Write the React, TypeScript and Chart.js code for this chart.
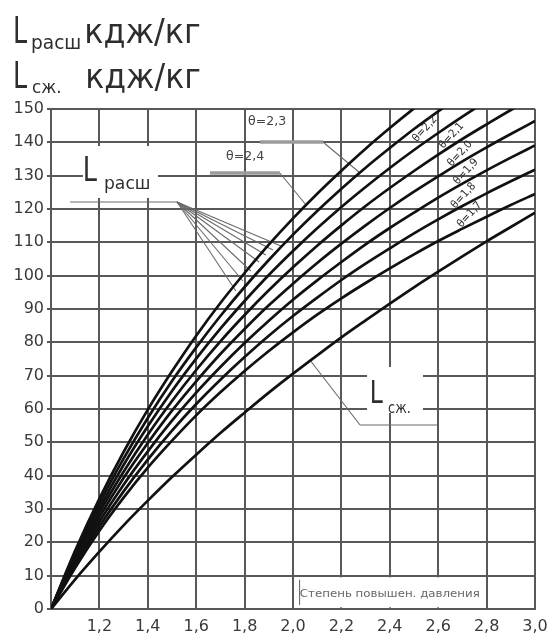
import React, { useEffect, useRef } from "react";
import { Chart, registerables } from "chart.js";

Chart.register(...registerables);

// ---- data ----
const PRESSURE_RATIO = [1.0, 1.1, 1.2, 1.3, 1.4, 1.5, 1.6, 1.7, 1.8, 1.9, 2.0, 2.1, 2.2, 2.3, 2.4, 2.5, 2.6, 2.7, 2.8, 2.9, 3.0];

const L_EXP_THETA_24 = [0, 17.5, 33.1, 47.1, 59.8, 71.3, 82.0, 91.8, 100.8, 109.3, 117.2, 124.6, 131.5, 138.1, 144.3, 150.2, 155.8, 161.1, 166.2, 171.1, 175.7];
const L_EXP_THETA_23 = [0, 16.8, 31.7, 45.1, 57.3, 68.4, 78.5, 87.9, 96.6, 104.7, 112.3, 119.4, 126.1, 132.4, 138.3, 144.0, 149.3, 154.4, 159.3, 163.9, 168.4];
const L_EXP_THETA_22 = [0, 16.1, 30.3, 43.2, 54.8, 65.4, 75.1, 84.1, 92.4, 100.2, 107.4, 114.2, 120.6, 126.6, 132.3, 137.7, 142.8, 147.7, 152.4, 156.8, 161.1];
const L_EXP_THETA_21 = [0, 15.3, 29.0, 41.2, 52.3, 62.4, 71.7, 80.3, 88.2, 95.6, 102.5, 109.0, 115.1, 120.9, 126.3, 131.4, 136.3, 141.0, 145.4, 149.7, 153.7];
const L_EXP_THETA_20 = [0, 14.6, 27.6, 39.3, 49.8, 59.5, 68.3, 76.5, 84.0, 91.1, 97.6, 103.8, 109.6, 115.1, 120.3, 125.2, 129.8, 134.3, 138.5, 142.5, 146.4];
const L_EXP_THETA_19 = [0, 13.9, 26.2, 37.3, 47.3, 56.5, 64.9, 72.6, 79.8, 86.5, 92.8, 98.6, 104.1, 109.4, 114.3, 118.9, 123.4, 127.6, 131.6, 135.4, 139.1];
const L_EXP_THETA_18 = [0, 13.1, 24.8, 35.3, 44.8, 53.5, 61.5, 68.8, 75.6, 82.0, 87.9, 93.4, 98.7, 103.6, 108.2, 112.7, 116.9, 120.9, 124.7, 128.3, 131.8];
const L_EXP_THETA_17 = [0, 12.4, 23.5, 33.4, 42.4, 50.5, 58.1, 65.0, 71.4, 77.4, 83.0, 88.3, 93.2, 97.8, 102.2, 106.4, 110.4, 114.1, 117.7, 121.2, 124.5];
const L_COMPRESSION = [0, 8.9, 17.2, 25.1, 32.5, 39.6, 46.3, 52.8, 58.9, 64.9, 70.6, 76.1, 81.5, 86.6, 91.6, 96.5, 101.2, 105.8, 110.3, 114.6, 118.9];

const CURVES = [
  L_EXP_THETA_24, L_EXP_THETA_23, L_EXP_THETA_22, L_EXP_THETA_21,
  L_EXP_THETA_20, L_EXP_THETA_19, L_EXP_THETA_18, L_EXP_THETA_17, L_COMPRESSION,
];

const X_MIN = 1.0;
const X_MAX = 3.0;
const X_STEP = 0.2;
const Y_MIN = 0;
const Y_MAX = 150;
const Y_STEP = 10;

// theta labels along the curves (text, x, y in data units)
const CURVE_LABELS: [string, number, number][] = [
  ["θ=2,2", 2.545, 144.0],
  ["θ=2,1", 2.655, 142.0],
  ["θ=2,0", 2.69, 136.6],
  ["θ=1,9", 2.715, 131.2],
  ["θ=1,8", 2.705, 124.0],
  ["θ=1,7", 2.73, 118.3],
];

const FAN_APEX: [number, number] = [1.521, 122.1];
const FAN_ENDS: [number, number][] = [
  [1.764, 95.4], [1.793, 98.4], [1.826, 101.4], [1.86, 104.1],
  [1.888, 106.2], [1.917, 107.7], [1.95, 108.9],
];

const AXIS_NOTE = "Степень повышен. давления";

const FONT = '"DejaVu Sans", sans-serif';
const TEXT = "#2e2e2e";
const GRID = "#585858";

function drawFit(ctx: CanvasRenderingContext2D, text: string, left: number, baseline: number, width: number, size: number, color: string) {
  ctx.save();
  ctx.font = `${size}px ${FONT}`;
  ctx.textAlign = "left";
  ctx.textBaseline = "alphabetic";
  const m = ctx.measureText(text);
  const ink = m.actualBoundingBoxRight + m.actualBoundingBoxLeft;
  const sx = width / ink;
  ctx.translate(left, baseline);
  ctx.scale(sx, 1);
  ctx.fillStyle = color;
  ctx.fillText(text, m.actualBoundingBoxLeft, 0);
  ctx.restore();
}

function drawCentered(ctx: CanvasRenderingContext2D, text: string, cx: number, cy: number, width: number, size: number, color: string, angle = 0) {
  ctx.save();
  ctx.font = `${size}px ${FONT}`;
  ctx.textAlign = "center";
  ctx.textBaseline = "middle";
  const m = ctx.measureText(text);
  const sx = width / m.width;
  ctx.translate(cx, cy);
  ctx.rotate(angle);
  ctx.scale(sx, 1);
  ctx.fillStyle = color;
  ctx.fillText(text, 0, 0);
  ctx.restore();
}

const annotations = {
  id: "annotations",
  beforeDatasetsDraw(chart: any) {
    const { ctx, scales } = chart;
    const X = (v: number) => scales.x.getPixelForValue(v);
    const Y = (v: number) => scales.y.getPixelForValue(v);
    ctx.save();
    // white label backgrounds hiding the grid
    ctx.fillStyle = "#ffffff";
    const masks: [number, number, number, number][] = [
      [1.132, 1.442, 123.3, 138.9],
      [2.306, 2.537, 58.8, 72.6],
      [2.012, 2.79, 0.5, 9.5],
    ];
    for (const [x0, x1, y0, y1] of masks) {
      ctx.fillRect(X(x0), Y(y1), X(x1) - X(x0), Y(y0) - Y(y1));
    }
    // leader lines
    ctx.strokeStyle = "#6a6a6a";
    ctx.lineWidth = 1.1;
    const line = (a: [number, number], b: [number, number]) => {
      ctx.beginPath();
      ctx.moveTo(X(a[0]), Y(a[1]));
      ctx.lineTo(X(b[0]), Y(b[1]));
      ctx.stroke();
    };
    line([1.079, 122.1], FAN_APEX);
    for (const e of FAN_ENDS) line(FAN_APEX, e);
    line([1.946, 130.8], [2.054, 121.2]);
    line([2.124, 140.1], [2.277, 130.8]);
    line([2.595, 55.2], [2.277, 55.2]);
    line([2.277, 55.2], [2.07, 74.7]);
    line([2.027, 1.2], [2.027, 8.8]);
    // thick grey shelves of the theta labels
    ctx.strokeStyle = "#9b9b9b";
    ctx.lineWidth = 3.5;
    line([1.657, 130.8], [1.946, 130.8]);
    line([1.864, 140.1], [2.124, 140.1]);
    ctx.restore();

    // axis note text
    drawCentered(ctx, AXIS_NOTE, X(2.40), Y(4.6), 180, 11, "#666666");
  },
  afterDatasetsDraw(chart: any) {
    const { ctx, scales } = chart;
    const X = (v: number) => scales.x.getPixelForValue(v);
    const Y = (v: number) => scales.y.getPixelForValue(v);
    for (const [t, x, y] of CURVE_LABELS) {
      drawCentered(ctx, t, X(x), Y(y), 31, 11, TEXT, (-48 * Math.PI) / 180);
    }
    drawCentered(ctx, "θ=2,4", X(1.802), Y(135.6), 38, 12, "#444");
    drawCentered(ctx, "θ=2,3", X(1.893), Y(146.1), 38, 12, "#444");
    // L_расш
    drawFit(ctx, "L", X(1.14), Y(128.4), 12, 34, TEXT);
    drawFit(ctx, "расш", X(1.223), Y(126.0), 45, 17, TEXT);
    // L_сж
    drawFit(ctx, "L", X(2.326), Y(61.8), 11, 32, TEXT);
    drawFit(ctx, "сж.", X(2.393), Y(58.8), 22, 15, TEXT);
  },
  afterDraw(chart: any) {
    const { ctx } = chart;
    drawFit(ctx, "L", 15, 43, 12, 38, TEXT);
    drawFit(ctx, "расш", 32, 49, 48, 19, TEXT);
    drawFit(ctx, "кдж/кг", 87, 43, 113, 34, TEXT);
    drawFit(ctx, "L", 15, 88, 12, 38, TEXT);
    drawFit(ctx, "сж.", 33, 93, 27, 18, TEXT);
    drawFit(ctx, "кдж/кг", 88, 88, 112, 34, TEXT);
  },
};

export default function App() {
  const ref = useRef<HTMLCanvasElement | null>(null);
  useEffect(() => {
    if (!ref.current) return;
    const datasets = CURVES.map((vals) => ({
      data: PRESSURE_RATIO.map((x, i) => ({ x, y: vals[i] })),
      borderColor: "#111111",
      borderWidth: 2.7,
      pointRadius: 0,
      fill: false,
      tension: 0.4,
      cubicInterpolationMode: "monotone" as const,
    }));
    const chart = new Chart(ref.current, {
      type: "line",
      data: { datasets },
      options: {
        responsive: false,
        animation: false,
        devicePixelRatio: 1,
        events: [],
        layout: { padding: { top: 109, right: 14, left: 0, bottom: 0 } },
        plugins: { legend: { display: false }, tooltip: { enabled: false }, title: { display: false } },
        scales: {
          x: {
            type: "linear",
            min: X_MIN,
            max: X_MAX,
            afterFit: (s: any) => { s.height = 25; s.paddingLeft = 0; s.paddingRight = 0; },
            ticks: {
              stepSize: X_STEP,
              maxRotation: 0,
              autoSkip: false,
              padding: 8,
              color: "#3a3a3a",
              font: { family: FONT, size: 16 },
              callback: (v: any) => (Math.abs(Number(v) - X_MIN) < 1e-9 ? "" : Number(v).toFixed(1).replace(".", ",")),
            },
            grid: { color: GRID, lineWidth: 2, drawTicks: false },
            border: { color: GRID, width: 2 },
          },
          y: {
            type: "linear",
            min: Y_MIN,
            max: Y_MAX,
            afterFit: (s: any) => { s.width = 51; s.paddingTop = 0; s.paddingBottom = 0; },
            ticks: {
              stepSize: Y_STEP,
              autoSkip: false,
              padding: 3,
              color: "#3a3a3a",
              font: { family: FONT, size: 16 },
            },
            grid: { color: GRID, lineWidth: 2, drawTicks: true, tickLength: 4 },
            border: { color: GRID, width: 2 },
          },
        },
      },
      plugins: [annotations],
    });
    return () => chart.destroy();
  }, []);
  return (
    <div style={{ position: "absolute", left: 0, top: 0, width: 549, height: 634, background: "#fff", overflow: "hidden" }}>
      <canvas ref={ref} width={549} height={634} style={{ display: "block" }} />
    </div>
  );
}
